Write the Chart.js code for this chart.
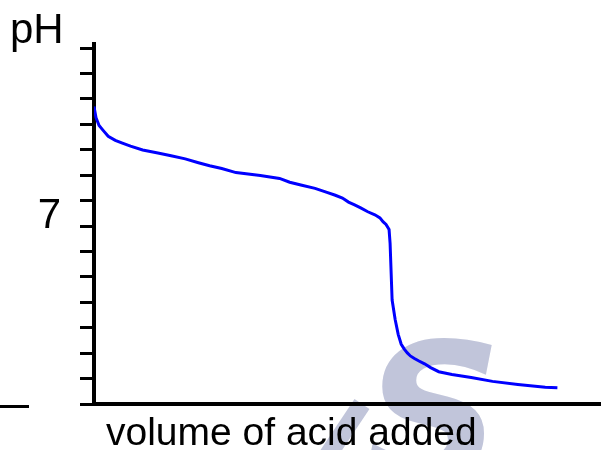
<!DOCTYPE html>
<html>
<head>
<meta charset="utf-8">
<script src="https://cdn.jsdelivr.net/npm/chart.js@4/dist/chart.umd.min.js"></script>
<style>
	body { margin : 0; background : #fff; }
	#phChart { display : block; }
</style>
</head>
<body>
<canvas id="phChart" width="601" height="450"></canvas>
<script>
// 적정 곡선 - 염기에 산을 넣을 때 pH 변화
const volume = [0, 0.2, 0.5, 0.9, 1.4, 2.1, 2.8, 3.6, 4.8, 6.3,
	7.6, 9.0, 10.3, 11.4, 12.6, 14.0, 16.4, 18.3, 19.3, 20.5,
	21.8, 22.9, 23.8, 24.5, 25.1, 25.7, 26.3, 27.0, 27.7, 28.2,
	28.5, 28.8, 29.1, 29.2, 29.4, 29.7, 30.0, 30.3, 30.6, 30.9,
	31.2, 31.6, 32.0, 32.6, 33.2, 34.0, 35.3, 37.2, 39.3, 41.8,
	44.5, 45.7]
const ph = [11.7, 11.26, 10.95, 10.76, 10.53, 10.37, 10.26, 10.14, 9.99, 9.87,
	9.76, 9.64, 9.49, 9.37, 9.26, 9.10, 8.99, 8.87, 8.72, 8.60,
	8.48, 8.33, 8.21, 8.10, 7.94, 7.83, 7.71, 7.56, 7.44, 7.32,
	7.17, 7.06, 6.86, 6.32, 4.09, 3.32, 2.74, 2.35, 2.16, 2.01,
	1.89, 1.79, 1.70, 1.58, 1.43, 1.27, 1.16, 1.04, 0.89, 0.77,
	0.66, 0.64]
const phLabels = [7]
const yTitle = 'pH'
const xTitle = 'volume of acid added'

let font = '"Liberation Sans", Arial, sans-serif'

let marks = {
	id : 'marks',
	beforeDraw : c => {
		// 배경 워터마크
		let ctx = c.ctx
		ctx.save()
		ctx.fillStyle = '#c1c5da'
		ctx.strokeStyle = '#c1c5da'
		ctx.font = 'italic bold 192px "DejaVu Sans"'
		ctx.fillText('S', 364, 481)
		ctx.lineWidth = 18
		ctx.beginPath()
		ctx.moveTo(362, 404)
		ctx.lineTo(326, 458)
		ctx.stroke()
		ctx.restore()
	},
	afterDraw : c => {
		let ctx = c.ctx
		ctx.save()
		ctx.fillStyle = '#000'
		ctx.textBaseline = 'alphabetic'
		ctx.font = '42px ' + font
		ctx.fillText(yTitle, 10, 43)
		ctx.font = '39px ' + font
		ctx.fillText(xTitle, 106, 445)
		ctx.fillRect(0, 405, 29, 3)
		ctx.restore()
	}
}

new Chart(document.getElementById('phChart'), {
	type : 'line',
	data : {
		datasets : [{
			data : volume.map((v, i) => ({x : v, y : ph[i]})),
			borderColor : '#0000ff',
			borderWidth : 3,
			pointRadius : 0,
			tension : 0,
			fill : false
		}]
	},
	options : {
		responsive : false,
		animation : false,
		events : [],
		layout : { padding : { top : 37, left : 0, right : 0, bottom : 0 } },
		plugins : {
			legend : { display : false },
			tooltip : { enabled : false }
		},
		scales : {
			x : {
				type : 'linear',
				min : 0,
				max : 50,
				ticks : { display : false },
				grid : { display : false },
				border : { color : '#000', width : 4 },
				afterFit : s => { s.height = 46 }
			},
			y : {
				min : 0,
				max : 14.15,
				ticks : {
					stepSize : 1,
					includeBounds : false,
					autoSkip : false,
					padding : 19,
					labelOffset : -10,
					color : '#000',
					font : { family : font, size : 42 },
					callback : v => phLabels.includes(v) ? String(v) : ''
				},
				grid : {
					drawOnChartArea : false,
					drawTicks : true,
					tickLength : 14,
					tickWidth : 3,
					tickColor : '#000'
				},
				border : { color : '#000', width : 4 },
				afterFit : s => { s.width = 94 }
			}
		}
	},
	plugins : [marks]
})
</script>
</body>
</html>
